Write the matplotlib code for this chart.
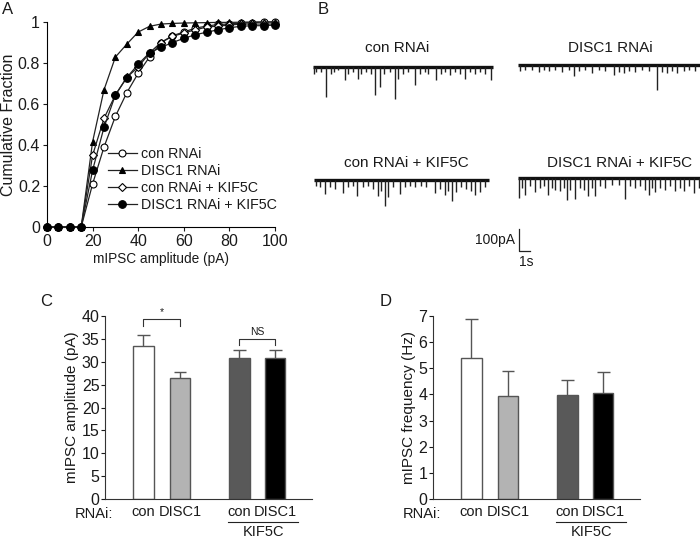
import matplotlib
matplotlib.use("Agg")
import matplotlib.pyplot as plt
import numpy as np

plt.rcParams['font.family'] = ['Liberation Sans', 'DejaVu Sans']
plt.rcParams['text.color'] = '#1a1a1a'
plt.rcParams['axes.labelcolor'] = '#1a1a1a'
plt.rcParams['xtick.color'] = '#1a1a1a'
plt.rcParams['ytick.color'] = '#1a1a1a'

W, H = 700, 538

# ---- panel A: cumulative fraction of mIPSC amplitude ----
amp_bins = [0, 5, 10, 15, 20, 25, 30, 35, 40, 45, 50, 55, 60, 65, 70, 75, 80, 85, 90, 95, 100]
cum_con = [0, 0, 0, 0, 0.21, 0.39, 0.54, 0.655, 0.75, 0.83, 0.90, 0.933, 0.951, 0.97, 0.98,
           0.988, 0.99, 0.995, 0.997, 1.0, 1.0]
cum_disc1 = [0, 0, 0, 0, 0.416, 0.669, 0.829, 0.892, 0.951, 0.979, 0.99, 0.993, 0.995, 0.996,
             0.997, 0.998, 0.998, 0.999, 1.0, 1.0, 1.0]
cum_con_kif = [0, 0, 0, 0, 0.35, 0.53, 0.644, 0.73, 0.78, 0.85, 0.90, 0.93, 0.946, 0.962, 0.975,
               0.98, 0.985, 0.99, 0.99, 0.99, 0.99]
cum_disc1_kif = [0, 0, 0, 0, 0.277, 0.486, 0.644, 0.729, 0.794, 0.85, 0.876, 0.90, 0.92, 0.938,
                 0.95, 0.962, 0.972, 0.979, 0.982, 0.982, 0.985]
legend_labels = ['con RNAi', 'DISC1 RNAi', 'con RNAi + KIF5C', 'DISC1 RNAi + KIF5C']

# ---- panel B: representative traces (event time in s, amplitude in pA) ----
trace_titles = ['con RNAi', 'DISC1 RNAi', 'con RNAi + KIF5C', 'DISC1 RNAi + KIF5C']
trace_len = [16.4, 16.5, 15.9, 16.5]
ev_t1 = [0.09, 0.3, 0.7, 1.21, 1.61, 1.91, 2.27, 2.88, 3.18, 3.64, 4.09, 4.39, 4.85, 5.30, 5.61,
         6.06, 6.45, 6.97, 7.42, 7.73, 8.18, 8.64, 9.30, 9.70, 10.15, 10.45, 11.21, 11.67, 12.03,
         12.42, 12.88, 13.33, 13.79, 14.24, 14.70, 15.15, 15.61, 16.21]
ev_a1 = [30, 23, 23, 136, 30, 23, 15, 61, 30, 23, 53, 30, 23, 30, 129, 91, 30, 23, 144, 56, 30,
         23, 80, 30, 23, 30, 61, 30, 23, 38, 23, 30, 56, 23, 30, 23, 30, 61]
ev_t2 = [0.21, 0.67, 1.27, 1.88, 2.33, 2.79, 3.39, 4.0, 4.61, 5.06, 5.52, 6.12, 6.73, 7.33, 7.94,
         8.70, 9.15, 9.61, 10.06, 10.67, 11.27, 11.88, 12.64, 13.09, 13.55, 14.0, 14.45, 15.06,
         15.52, 16.12]
ev_a2 = [27, 23, 23, 30, 23, 27, 23, 30, 23, 48, 27, 23, 38, 23, 27, 45, 30, 38, 27, 30, 23, 27,
         114, 30, 38, 27, 38, 27, 23, 27]
ev_t3 = [0.21, 0.52, 0.97, 1.42, 1.88, 2.64, 3.09, 3.55, 3.94, 4.45, 4.91, 5.36, 5.82, 6.12, 6.42,
         6.73, 7.18, 7.79, 8.24, 8.70, 9.15, 9.76, 10.21, 10.97, 11.42, 11.88, 12.18, 12.55, 12.94,
         13.39, 13.85, 14.30, 14.61, 15.06, 15.52]
ev_a3 = [26, 33, 64, 33, 41, 59, 33, 26, 71, 33, 26, 41, 71, 48, 117, 79, 33, 64, 33, 26, 33, 26,
         33, 59, 41, 68, 48, 94, 56, 33, 41, 48, 68, 56, 33]
ev_t4 = [0.06, 0.36, 0.67, 1.12, 1.58, 2.03, 2.33, 2.70, 3.09, 3.39, 3.85, 4.15, 4.45, 4.76, 5.21,
         5.67, 5.97, 6.36, 6.73, 7.03, 7.48, 7.94, 8.55, 9.15, 9.70, 10.21, 10.67, 11.12, 11.52,
         11.88, 12.18, 12.48, 12.94, 13.39, 13.85, 14.30, 14.76, 15.06, 15.52, 15.97, 16.42]
ev_a4 = [91, 45, 76, 38, 65, 45, 38, 76, 45, 53, 61, 45, 102, 53, 95, 45, 53, 80, 45, 80, 38, 45,
         30, 30, 95, 38, 45, 38, 53, 76, 45, 65, 45, 53, 38, 61, 45, 61, 38, 68, 45]

# ---- panels C and D: bar charts ----
groups = ['con', 'DISC1', 'con', 'DISC1']
bar_colors = ['white', '#b3b3b3', '#595959', 'black']
amp_mean = [33.4, 26.5, 30.8, 30.8]
amp_sem = [2.4, 1.2, 1.7, 1.7]
freq_mean = [5.38, 3.93, 3.98, 4.05]
freq_sem = [1.52, 0.95, 0.58, 0.80]


def px_axes(l, t, r, b):
    return fig.add_axes([l / W, 1 - b / H, (r - l) / W, (b - t) / H])


def ftext(x, y, s, **kw):
    fig.text(x / W, 1 - y / H, s, **kw)


fig = plt.figure(figsize=(7, 5.38), dpi=100)

# ===== A =====
axA = px_axes(47, 22, 275, 227)
series = [cum_con, cum_disc1, cum_con_kif, cum_disc1_kif]
markers = ['o', '^', 'D', 'o']
faces = ['white', 'black', 'white', 'black']
msizes = [5, 4.8, 4, 5.5]
for vals, m, fc, ms, lab in zip(series, markers, faces, msizes, legend_labels):
    axA.plot(amp_bins, vals, marker=m, mfc=fc, mec='black', ms=ms, color='#222222', lw=0.9,
             mew=0.8, label=lab, clip_on=False, zorder=3)
axA.set_xlim(0, 100)
axA.set_ylim(0, 1)
axA.set_xticks([0, 20, 40, 60, 80, 100])
axA.set_yticks([0, 0.2, 0.4, 0.6, 0.8, 1.0])
axA.set_yticklabels(['0', '0.2', '0.4', '0.6', '0.8', '1'])
axA.tick_params(labelsize=11.5, length=3, width=0.8, pad=2)
for s in ['top', 'right']:
    axA.spines[s].set_visible(False)
for s in ['left', 'bottom']:
    axA.spines[s].set_linewidth(0.8)
axA.set_xlabel('mIPSC amplitude (pA)', fontsize=9.8, labelpad=2)
axA.set_ylabel('Cumulative Fraction', fontsize=11.5, labelpad=1)
axA.legend(loc='upper left', bbox_to_anchor=(108 / W, 1 - 147 / H), bbox_transform=fig.transFigure,
           frameon=False, fontsize=10.3, handlelength=2.0, handletextpad=0.3, labelspacing=0.2,
           borderaxespad=0, borderpad=0)

# ===== B =====
trace_pos = [(313, 67), (518, 65), (314, 180), (518, 178)]
title_pos = [(397, 48), (610, 48), (406, 163), (620, 163)]
events = [(ev_t1, ev_a1), (ev_t2, ev_a2), (ev_t3, ev_a3), (ev_t4, ev_a4)]
px_per_s, px_per_pA = 11.0, 0.22
for (l, base), (tx, ty), (et, ea), dur, title in zip(trace_pos, title_pos, events, trace_len, trace_titles):
    ax = px_axes(l, base - 20 * px_per_pA, l + 16.5 * px_per_s, base + 160 * px_per_pA)
    ax.set_xlim(0, 16.5)
    ax.set_ylim(-160, 20)
    ax.plot([0, dur], [0, 0], color='#111111', lw=2.4, solid_capstyle='butt')
    ax.vlines(et, -np.array(ea), 0, color='#222222', lw=1.0)
    ax.axis('off')
    ftext(tx, ty, title, ha='center', va='center', fontsize=11)

axS = px_axes(519, 229, 519 + px_per_s, 251)
axS.set_xlim(0, 1)
axS.set_ylim(0, 100)
axS.plot([0, 0, 1], [100, 0, 0], color='#222222', lw=0.9, clip_on=False)
axS.axis('off')
ftext(515, 240, '100pA', ha='right', va='center', fontsize=10)
ftext(526, 262, '1s', ha='center', va='center', fontsize=10)

# ===== C & D =====
bar_x = [1, 2, 3.62, 4.6]


def bar_panel(ax, means, sems, ylim, yticks, ylabel, sig=None):
    ax.bar(bar_x, means, width=0.55, color=bar_colors, edgecolor='#555555', lw=1, zorder=2)
    tops = np.array(means) + np.array(sems)
    ax.vlines(bar_x, means, tops, color='#555555', lw=1, zorder=1)
    ax.hlines(tops, np.array(bar_x) - 0.17, np.array(bar_x) + 0.17, color='#555555', lw=1, zorder=1)
    ax.set_xlim(-0.05, 5.6)
    ax.set_ylim(*ylim)
    ax.set_yticks(yticks)
    ax.set_xticks(bar_x)
    ax.set_xticklabels(groups)
    ax.tick_params(axis='y', labelsize=11.5, length=3, width=0.8, pad=1)
    ax.tick_params(axis='x', labelsize=10.5, length=0, pad=4)
    for s in ['top', 'right']:
        ax.spines[s].set_visible(False)
    for s in ['left', 'bottom']:
        ax.spines[s].set_linewidth(0.8)
        ax.spines[s].set_color('#333333')
    ax.set_ylabel(ylabel, fontsize=11, labelpad=2)
    if sig:
        for i, j, txt, y, dy in sig:
            ax.plot([bar_x[i], bar_x[i], bar_x[j], bar_x[j]], [y - dy, y, y, y - dy],
                    color='#333333', lw=0.8, clip_on=False)
            ax.text((bar_x[i] + bar_x[j]) / 2, y + 0.4, txt, ha='center', va='bottom', fontsize=7.5)


axC = px_axes(105, 316, 312, 499)
bar_panel(axC, amp_mean, amp_sem, (0, 40), range(0, 41, 5), 'mIPSC amplitude (pA)',
          sig=[(0, 1, '*', 39.3, 1.5), (2, 3, 'NS', 35.0, 1.3)])
axD = px_axes(433, 316, 640, 499)
bar_panel(axD, freq_mean, freq_sem, (0, 7), range(0, 8), 'mIPSC frequency (Hz)')

# RNAi labels, KIF5C underline
for x0, xu in [(75, (228, 298)), (403, (556, 626))]:
    ftext(x0, 514, 'RNAi:', ha='left', va='center', fontsize=10.5)
    fig.add_artist(plt.Line2D([xu[0] / W, xu[1] / W], [1 - 522 / H, 1 - 522 / H],
                              color='#222222', lw=0.8))
    ftext((xu[0] + xu[1]) / 2, 532, 'KIF5C', ha='center', va='center', fontsize=10.5)

# panel letters
for lab, x, y in [('A', 2, 9), ('B', 318, 9), ('C', 40, 301), ('D', 380, 301)]:
    ftext(x, y, lab, ha='left', va='center', fontsize=12)

fig.savefig('out.png', dpi=100)
